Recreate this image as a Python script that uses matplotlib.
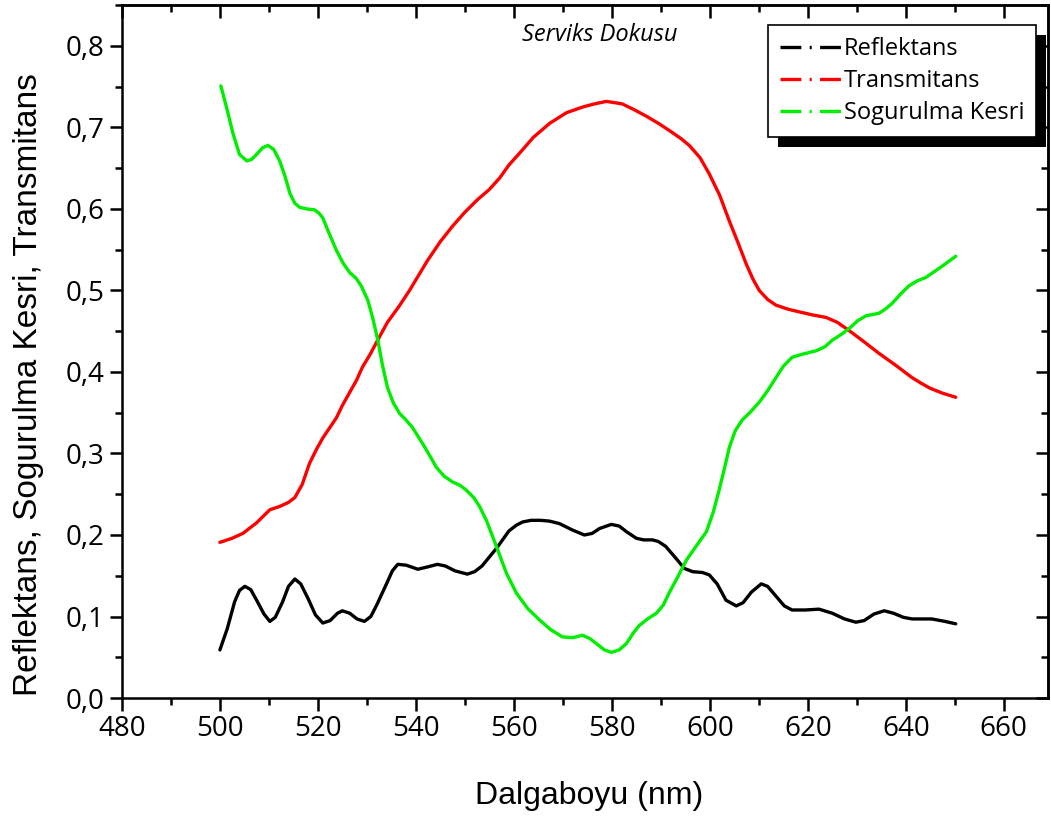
import numpy as np
import matplotlib.pyplot as plt
from matplotlib.lines import Line2D
from matplotlib.ticker import MultipleLocator, FuncFormatter
import matplotlib.patheffects as pe

plt.rcParams['lines.scale_dashes'] = False

# Reflektans
wl_ref = [500, 501.5, 503, 504, 505.1, 506.3, 507.5, 509, 510.2, 511.3, 512.8, 514, 515.3,
          516.5, 518, 519.5, 521, 522.5, 524, 525, 526.5, 528, 529.5, 530.8, 532, 534,
          535.2, 536.3, 538, 540.4, 542.5, 544.4, 546, 548, 550.5, 552, 553.5, 556.5, 559,
          560.5, 561.8, 563.5, 565.5, 567.3, 569.3, 572, 574.4, 576, 577.5, 579.9, 581.5,
          583, 585, 586.5, 588.3, 589.5, 591, 593, 594.8, 596.5, 598.5, 599.9, 601.5,
          603.3, 605.4, 606.8, 608.5, 610.5, 611.8, 613.5, 615.2, 616.8, 619.5, 622.3,
          625, 627.5, 629.8, 631.5, 633.5, 635.6, 637.5, 639.5, 641.3, 645.3, 648, 650.2]
reflektans = [0.059, 0.085, 0.118, 0.132, 0.137, 0.133, 0.120, 0.103, 0.094, 0.099, 0.118, 0.137, 0.146,
              0.140, 0.122, 0.102, 0.092, 0.095, 0.104, 0.107, 0.104, 0.097, 0.094, 0.100, 0.114, 0.140,
              0.156, 0.164, 0.163, 0.158, 0.161, 0.164, 0.162, 0.156, 0.152, 0.155, 0.162, 0.184, 0.205,
              0.212, 0.216, 0.218, 0.218, 0.217, 0.214, 0.206, 0.200, 0.202, 0.208, 0.213, 0.211,
              0.204, 0.196, 0.194, 0.194, 0.192, 0.186, 0.172, 0.159, 0.155, 0.154, 0.151, 0.140,
              0.120, 0.113, 0.117, 0.130, 0.140, 0.137, 0.125, 0.113, 0.108, 0.108, 0.109,
              0.104, 0.097, 0.093, 0.095, 0.103, 0.107, 0.104, 0.099, 0.097, 0.097, 0.094, 0.091]

# Transmitans
wl_tra = [500, 502.5, 504.7, 507.5, 510.2, 512.2, 514, 515.3, 516.8, 518.3, 519.7, 521,
          523.8, 525, 527.9, 529.1, 530.7, 532.2, 534.2, 536.5, 538.7, 540.5, 542.4, 545,
          547.5, 550, 552.5, 555, 557.1, 559, 561.1, 564, 567.3, 570.7, 574, 576.5, 578.9,
          582.1, 584.5, 587, 589.8, 592.3, 594.2, 595.8, 598, 599.9, 602, 604, 605.8, 607.4,
          608.8, 610.1, 611.8, 613.5, 616, 618.8, 621, 623.7, 626, 628.4, 631.5, 634.5,
          638, 641.3, 643.2, 645, 647.5, 650.2]
transmitans = [0.191, 0.196, 0.202, 0.215, 0.231, 0.235, 0.240, 0.246, 0.262, 0.288, 0.305, 0.319,
               0.344, 0.359, 0.390, 0.406, 0.422, 0.439, 0.461, 0.480, 0.500, 0.518, 0.537, 0.560,
               0.579, 0.596, 0.611, 0.624, 0.638, 0.654, 0.668, 0.688, 0.705, 0.718, 0.725, 0.729, 0.732,
               0.729, 0.722, 0.714, 0.704, 0.694, 0.686, 0.678, 0.663, 0.643, 0.617, 0.585, 0.558, 0.533,
               0.514, 0.500, 0.489, 0.482, 0.477, 0.473, 0.470, 0.467, 0.461, 0.451, 0.437, 0.423,
               0.408, 0.393, 0.386, 0.380, 0.374, 0.369]

# Sogurulma Kesri
wl_sog = [500.2, 501.3, 502.7, 504, 505.5, 506.5, 507.5, 508.7, 509.8, 511, 512.2, 513.3,
          514.3, 515.3, 516.3, 517.8, 519.3, 520.2, 521, 522.3, 523.8, 525.2, 526.5, 527.8,
          528.9, 530.2, 531.2, 532.2, 533.2, 534.2, 535.4, 536.7, 538, 539.3, 541.8, 544.2,
          545.8, 547.5, 549, 550.3, 551.8, 553, 554.4, 556.5, 558.5, 560.5, 562.8, 565.2,
          567.5, 569.9, 572, 574, 575.5, 576.8, 578.5, 579.9, 581.5, 583, 584.3, 585.6,
          587.3, 589.1, 590.5, 591.7, 593.5, 595.2, 597.3, 599.3, 600.7, 601.9, 603, 604,
          605.2, 606.6, 608.3, 610.1, 611.8, 613.5, 615, 616.8, 619, 621.7, 623.5, 625,
          626.8, 628.4, 630.2, 631.9, 634.5, 635.8, 637.2, 639, 640.7, 642.4, 644.1, 647, 650.2]
sogurulma = [0.751, 0.726, 0.692, 0.667, 0.659, 0.661, 0.667, 0.675, 0.678, 0.673, 0.659, 0.640,
             0.619, 0.607, 0.602, 0.600, 0.599, 0.595, 0.589, 0.570, 0.549, 0.533, 0.522, 0.515,
             0.505, 0.488, 0.466, 0.440, 0.408, 0.381, 0.362, 0.349, 0.341, 0.332, 0.308, 0.283,
             0.272, 0.265, 0.261, 0.255, 0.246, 0.235, 0.218, 0.185, 0.153, 0.129, 0.110, 0.096,
             0.084, 0.075, 0.074, 0.077, 0.073, 0.067, 0.059, 0.056, 0.059, 0.067, 0.079, 0.089,
             0.097, 0.104, 0.114, 0.129, 0.149, 0.169, 0.187, 0.204, 0.228, 0.255, 0.282, 0.308,
             0.328, 0.341, 0.351, 0.363, 0.377, 0.393, 0.407, 0.418, 0.422, 0.426, 0.431, 0.439,
             0.446, 0.453, 0.463, 0.469, 0.472, 0.477, 0.484, 0.496, 0.506, 0.512, 0.516, 0.528, 0.542]

labels = ['Reflektans', 'Transmitans', 'Sogurulma Kesri']
colors = ['#000000', '#ff0000', '#00ee00']

fig = plt.figure(figsize=(10.51, 8.16), dpi=100)
ax = fig.add_axes([0.116, 0.1446, 0.881, 0.849])

lw = 2.4
for wl, vals, c in ((wl_ref, reflektans, colors[0]),
                    (wl_tra, transmitans, colors[1]),
                    (wl_sog, sogurulma, colors[2])):
    ax.plot(wl, vals, color=c, lw=lw, solid_joinstyle='round', solid_capstyle='round')

ax.set_xlim(480, 669)
ax.set_ylim(0, 0.85)

ax.xaxis.set_major_locator(MultipleLocator(20))
ax.xaxis.set_minor_locator(MultipleLocator(10))
ax.yaxis.set_major_locator(MultipleLocator(0.1))
ax.yaxis.set_minor_locator(MultipleLocator(0.05))
ax.yaxis.set_major_formatter(FuncFormatter(lambda v, p: f'{v:.1f}'.replace('.', ',')))

for s in ax.spines.values():
    s.set_linewidth(1.8)

tick_font = 'Open Sans'
ax.tick_params(which='both', direction='out', width=1.8, top=False, right=False,
               labelsize=20)
ax.tick_params(which='major', length=9)
ax.tick_params(which='minor', length=5)
for lab in ax.get_xticklabels() + ax.get_yticklabels():
    lab.set_family(tick_font)

# mirrored axes with inward ticks and no labels
sec_x = ax.secondary_xaxis('top')
sec_y = ax.secondary_yaxis('right')
for sec in (sec_x, sec_y):
    sec.spines[:].set_linewidth(1.8)
    sec.tick_params(which='both', direction='in', width=1.8)
    sec.tick_params(which='major', length=9)
    sec.tick_params(which='minor', length=5)
sec_x.xaxis.set_major_locator(MultipleLocator(20))
sec_x.xaxis.set_minor_locator(MultipleLocator(10))
sec_x.set_xticklabels([])
sec_y.yaxis.set_major_locator(MultipleLocator(0.1))
sec_y.yaxis.set_minor_locator(MultipleLocator(0.05))
sec_y.set_yticklabels([])

ax.set_xlabel('Dalgaboyu (nm)', fontsize=23, family='Liberation Sans')
ax.set_ylabel('Reflektans, Sogurulma Kesri, Transmitans', fontsize=24,
              family='Liberation Sans')
ax.xaxis.set_label_coords(0.505, -0.12)
ax.yaxis.set_label_coords(-0.084, 0.453)

ax.text(0.516, 0.957, 'Serviks Dokusu', transform=ax.transAxes, ha='center', va='center',
        fontsize=17, style='italic', family=tick_font)

handles = [Line2D([], [], color=c, lw=lw, dashes=(15, 6, 1.5, 6)) for c in colors]
leg = ax.legend(handles, labels, loc='upper right', bbox_to_anchor=(0.987, 0.971),
                borderaxespad=0, prop={'family': tick_font, 'size': 17},
                handlelength=2.6, handletextpad=0.1, labelspacing=0.34,
                borderpad=0.5, fancybox=False, framealpha=1, edgecolor='black')
leg.get_frame().set_linewidth(1.2)
leg.get_frame().set_path_effects([
    pe.SimplePatchShadow(offset=(7, -7), shadow_rgbFace='black', alpha=1),
    pe.Normal()])

fig.savefig('out.png', dpi=100)
